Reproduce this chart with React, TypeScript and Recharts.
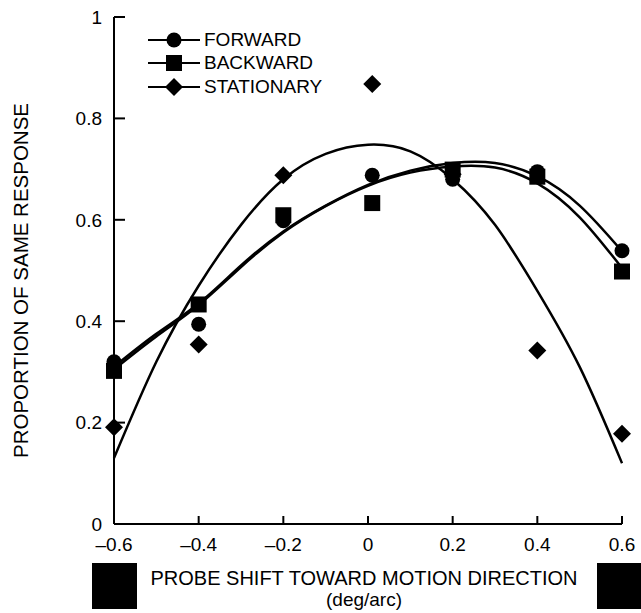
import React from 'react';
import { ComposedChart, Line, Scatter, XAxis, YAxis, Legend } from 'recharts';

// measured points (x in deg/arc)
const pointX = [-0.6, -0.4, -0.2, 0.01, 0.2, 0.4, 0.6];
const forwardPts = [0.32, 0.394, 0.598, 0.688, 0.68, 0.695, 0.539];
const backwardPts = [0.302, 0.433, 0.609, 0.633, 0.699, 0.685, 0.498];
const stationaryPts = [0.191, 0.354, 0.688, 0.868, 0.69, 0.342, 0.178];

// fitted curves
const curveX = [-0.6, -0.5, -0.4, -0.3, -0.2, -0.1, 0, 0.1, 0.2, 0.3, 0.4, 0.5, 0.6];
const forwardFit = [0.31, 0.375, 0.435, 0.51, 0.577, 0.628, 0.669, 0.697, 0.712, 0.712, 0.686, 0.628, 0.538];
const backwardFit = [0.305, 0.37, 0.432, 0.507, 0.575, 0.627, 0.667, 0.693, 0.705, 0.703, 0.672, 0.605, 0.505];
const stationaryFit = [0.13, 0.32, 0.47, 0.59, 0.68, 0.73, 0.748, 0.735, 0.68, 0.59, 0.46, 0.31, 0.12];

const xTicks = [-0.6, -0.4, -0.2, 0, 0.2, 0.4, 0.6];
const yTicks = [0, 0.2, 0.4, 0.6, 0.8, 1];
const legendNames = ['FORWARD', 'BACKWARD', 'STATIONARY'];

const curveData = curveX.map((x, i) => ({
  x,
  fwdFit: forwardFit[i],
  bwdFit: backwardFit[i],
  staFit: stationaryFit[i],
}));
const toPts = (vals: number[]) => pointX.map((x, i) => ({ x, y: vals[i] }));

const FONT = 'Arial, "Liberation Sans", Helvetica, sans-serif';

const Dot = (p: any) => <circle cx={p.cx} cy={p.cy} r={7.5} fill="#000" />;
const Sq = (p: any) => <rect x={p.cx - 8} y={p.cy - 8} width={16} height={16} fill="#000" />;
const Dia = (p: any) => (
  <path d={`M${p.cx},${p.cy - 9}L${p.cx + 9},${p.cy}L${p.cx},${p.cy + 9}L${p.cx - 9},${p.cy}Z`} fill="#000" />
);
const shapes = [Dot, Sq, Dia];

const renderLegend = () => (
  <div style={{ fontFamily: FONT, fontSize: 19, color: '#000' }}>
    {legendNames.map((name, i) => {
      const S = shapes[i];
      return (
        <div key={name} style={{ display: 'flex', alignItems: 'center', height: 23.5 }}>
          <svg width={52} height={20}>
            <line x1={0} y1={10} x2={52} y2={10} stroke="#000" strokeWidth={2} />
            <S cx={26} cy={10} />
          </svg>
          <span style={{ marginLeft: 4, lineHeight: '20px' }}>{name}</span>
        </div>
      );
    })}
  </div>
);

const fmtX = (v: number) => (v === 0 ? '0' : v < 0 ? '\u2013' + Math.abs(v).toFixed(1) : v.toFixed(1));
const fmtY = (v: number) => (v === 0 ? '0' : v === 1 ? '1' : v.toFixed(1));

const YLabel = (props: any) => {
  const { viewBox } = props;
  const cx = 20;
  const cy = viewBox.y + viewBox.height / 2 + 10;
  return (
    <text x={cx} y={cy} transform={`rotate(-90, ${cx}, ${cy})`} textAnchor="middle" dominantBaseline="central"
      fontFamily={FONT} fontSize={20.5} fill="#000">
      PROPORTION OF SAME RESPONSE
    </text>
  );
};

const XLabel = (props: any) => {
  const { viewBox } = props;
  const cx = viewBox.x + viewBox.width / 2 - 4;
  return (
    <g fontFamily={FONT} fill="#000" textAnchor="middle">
      <text x={cx} y={585} fontSize={20}>PROBE SHIFT TOWARD MOTION DIRECTION</text>
      <text x={cx} y={606} fontSize={19}>(deg/arc)</text>
    </g>
  );
};

export default function App() {
  return (
    <div style={{ position: 'absolute', left: 0, top: 0, width: 641, height: 613, background: '#fff' }}>
      <ComposedChart width={641} height={613} data={curveData} margin={{ top: 17, right: 19, bottom: 0, left: 0 }}>
        <XAxis
          dataKey="x"
          type="number"
          domain={[-0.6, 0.6]}
          ticks={xTicks}
          tickFormatter={fmtX}
          height={89}
          tickSize={-8}
          tickMargin={22}
          stroke="#000"
          strokeWidth={2}
          tick={{ fill: '#000', fontSize: 19, fontFamily: FONT }}
          label={<XLabel />}
        />
        <YAxis
          type="number"
          domain={[0, 1]}
          ticks={yTicks}
          tickFormatter={fmtY}
          width={114}
          tickSize={-11}
          tickMargin={23}
          stroke="#000"
          strokeWidth={2}
          tick={{ fill: '#000', fontSize: 19, fontFamily: FONT }}
          label={<YLabel />}
        />
        <Legend
          content={renderLegend}
          layout="vertical"
          align="center"
          verticalAlign="middle"
          wrapperStyle={{ left: 148, top: 28, width: 220 }}
        />
        <Line dataKey="staFit" type="natural" stroke="#000" strokeWidth={2.5} dot={false} isAnimationActive={false} legendType="none" />
        <Line dataKey="fwdFit" type="natural" stroke="#000" strokeWidth={2.5} dot={false} isAnimationActive={false} legendType="none" />
        <Line dataKey="bwdFit" type="natural" stroke="#000" strokeWidth={2.5} dot={false} isAnimationActive={false} legendType="none" />
        <Scatter name="STATIONARY" data={toPts(stationaryPts)} dataKey="y" shape={Dia} isAnimationActive={false} />
        <Scatter name="FORWARD" data={toPts(forwardPts)} dataKey="y" shape={Dot} isAnimationActive={false} />
        <Scatter name="BACKWARD" data={toPts(backwardPts)} dataKey="y" shape={Sq} isAnimationActive={false} />
      </ComposedChart>
      <div style={{ position: 'absolute', left: 92, top: 563, width: 45, height: 46, background: '#000' }} />
      <div style={{ position: 'absolute', left: 597, top: 563, width: 44, height: 46, background: '#000' }} />
    </div>
  );
}
